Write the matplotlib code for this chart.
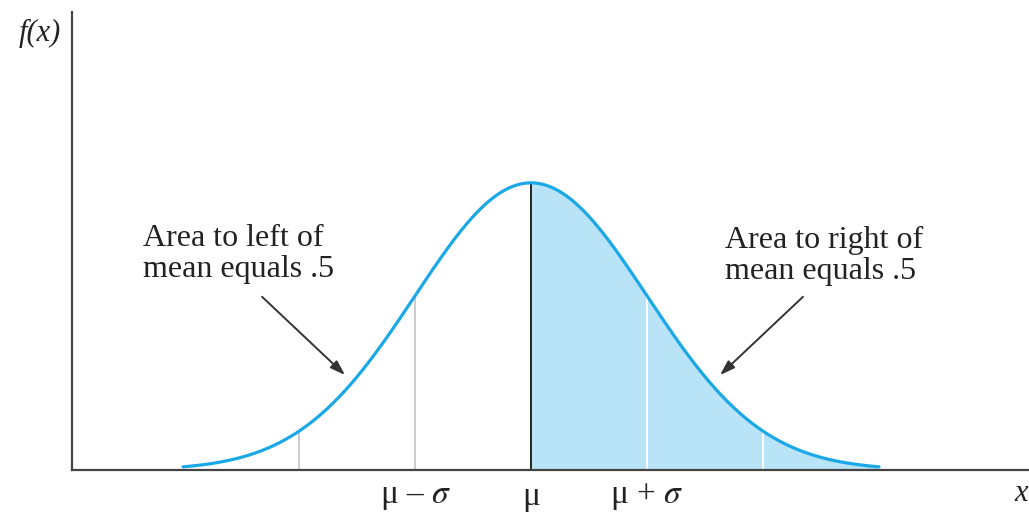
import matplotlib
matplotlib.use("Agg")
import matplotlib.pyplot as plt
import numpy as np

plt.rcParams['font.family'] = ['Liberation Serif', 'DejaVu Serif']
plt.rcParams['mathtext.fontset'] = 'stix'

# normal distribution, in units of sigma
mu = 0.0
sigma = 1.0
x_range = [-3.0, 3.0]
left_lines = [-2.0, -1.0]    # thin grey guides left of the mean
right_lines = [1.0, 2.0]     # white guides inside the shaded half
tick_pos = [-1.0, 0.0, 1.0]
tick_labels = ['μ – $\\sigma$', 'μ', 'μ + $\\sigma$']

def pdf(v):
    return np.exp(-0.5 * ((v - mu) / sigma) ** 2) / (sigma * np.sqrt(2 * np.pi))

x = np.linspace(x_range[0], x_range[1], 600)
y = pdf(x)

fig = plt.figure(figsize=(10.29, 5.12), dpi=100)
ax = fig.add_axes([0.070, 0.082, 0.930, 0.895])

blue = '#1aa8e6'
fill_blue = '#b9e3f7'

right = x >= mu
ax.fill_between(x[right], 0, y[right], color=fill_blue, lw=0)

for v in left_lines:
    ax.plot([v, v], [0, pdf(v)], color='#c8c8c8', lw=1.3)
for v in right_lines:
    ax.plot([v, v], [0, pdf(v)], color='white', lw=1.3)
ax.plot([mu, mu], [0, pdf(mu)], color='#222222', lw=1.4)

ax.plot(x, y, color=blue, lw=2.3, solid_capstyle='round')

ax.set_xlim(-3.957, 4.293)
ax.set_ylim(0, 0.6366)

for s in ['top', 'right']:
    ax.spines[s].set_visible(False)
for s in ['left', 'bottom']:
    ax.spines[s].set_color('#444444')
    ax.spines[s].set_linewidth(1.6)

ax.set_yticks([])
ax.set_xticks(tick_pos)
ax.set_xticklabels(tick_labels, fontsize=24, color='#222222')
ax.tick_params(axis='x', length=0, pad=8)

fig.text(0.039, 0.935, 'f(x)', fontsize=22, style='italic', ha='center', va='center',
         color='#222222')
fig.text(0.986, 0.037, 'x', fontsize=22, style='italic', ha='left', va='center',
         color='#222222')

ax.text(-3.345, 0.3000, 'Area to left of\nmean equals .5', fontsize=23,
        ha='left', va='center', linespacing=1.1, color='#222222')
ax.text(1.672, 0.2975, 'Area to right of\nmean equals .5', fontsize=23,
        ha='left', va='center', linespacing=1.1, color='#222222')

arrow = dict(arrowstyle='-|>,head_length=0.9,head_width=0.3', color='#333333', lw=1.4)
ax.annotate('', xy=(-1.586, 0.1293), xytext=(-2.336, 0.2433), arrowprops=arrow)
ax.annotate('', xy=(1.612, 0.1293), xytext=(2.362, 0.2433), arrowprops=arrow)

fig.savefig('out.png', dpi=100)
